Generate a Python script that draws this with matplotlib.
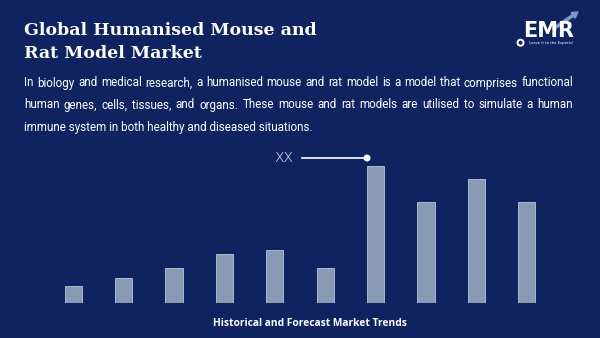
import matplotlib.pyplot as plt
from matplotlib.patches import Circle, FancyArrow

# data (bar heights, arbitrary units)
years = ["2018", "2019", "2020", "2021", "2022", "2023", "2024", "2025", "2026", "2027"]
values = [17, 25, 35, 49, 53, 35, 137, 101, 124, 101]

title = "Global Humanised Mouse and\nRat Model Market"
para = [
    "In biology and medical research, a humanised mouse and rat model is a model that comprises functional",
    "human genes, cells, tissues, and organs. These mouse and rat models are utilised to simulate a human",
    "immune system in both healthy and diseased situations.",
]
footer = "Historical and Forecast Market Trends"
callout = "XX"

bg = "#0e2360"
bar_col = "#8a9ab5"
W, H = 600, 338

fig = plt.figure(figsize=(6, 3.38), dpi=100, facecolor=bg)

# overlay axes in pixel coordinates (y grows downward)
over = fig.add_axes([0, 0, 1, 1], facecolor=bg)
over.set_xlim(0, W)
over.set_ylim(H, 0)
over.axis("off")

# bar axes
base_px, top_px = 303.3, 150
ax = fig.add_axes([48 / W, (H - base_px) / H, 504 / W, (base_px - top_px) / H])
ax.set_facecolor("none")
ax.bar(range(len(values)), values, width=0.34, color=bar_col,
       edgecolor="#a9b8cf", linewidth=0.7)
ax.set_xlim(-0.5, len(values) - 0.5)
ax.set_ylim(0, base_px - top_px)
ax.axis("off")

# title
for k, t in enumerate(title.split("\n")):
    over.text(24, 35 + 23.5 * k, t, color="white", fontsize=12.5,
              fontweight="bold", family="DejaVu Serif", va="baseline", ha="left")

# justified paragraph
fig.canvas.draw()
r = fig.canvas.get_renderer()
left, right = 24, 573
ys = [86.5, 108.5, 131]
fs = 8.4
pfont = "Roboto"
for i, line in enumerate(para):
    if i == len(para) - 1:
        over.text(left, ys[i], line, color="white", fontsize=fs, family=pfont,
                  va="baseline", ha="left")
        continue
    words = line.split(" ")
    objs = [over.text(0, ys[i], w, color="white", fontsize=fs, family=pfont,
                      va="baseline", ha="left") for w in words]
    widths = [o.get_window_extent(r).width for o in objs]
    gap = (right - left - sum(widths)) / (len(words) - 1)
    x = left
    for o, w in zip(objs, widths):
        o.set_x(x)
        x += w + gap

# callout
over.text(293, 158, callout, color="white", fontsize=10, family="DejaVu Sans",
          fontweight="light", va="center", ha="right")
over.plot([302, 367], [158, 158], color="white", lw=1.2)
over.add_patch(Circle((367, 158), 2.8, color="white"))

# footer
over.text(309.5, 324, footer, color="white", fontsize=7.4, fontweight="bold",
          family="Open Sans", va="center", ha="center")

# logo
over.add_patch(FancyArrow(553, 29, 25, -17, width=2.2, head_width=7, head_length=6,
                          color="#8096cc", length_includes_head=True, zorder=2))
over.text(549, 31, "EMR", color="white", fontsize=15, fontweight="bold",
          family="DejaVu Sans", va="center", ha="center", zorder=3)
over.text(551, 43, "Leave it to the Experts!", color="white", fontsize=2.7,
          family="DejaVu Sans", va="center", ha="center")
over.add_patch(Circle((520.5, 42.7), 3, fill=False, ec="white", lw=1.4))

fig.savefig("out.png", dpi=100, facecolor=bg)
